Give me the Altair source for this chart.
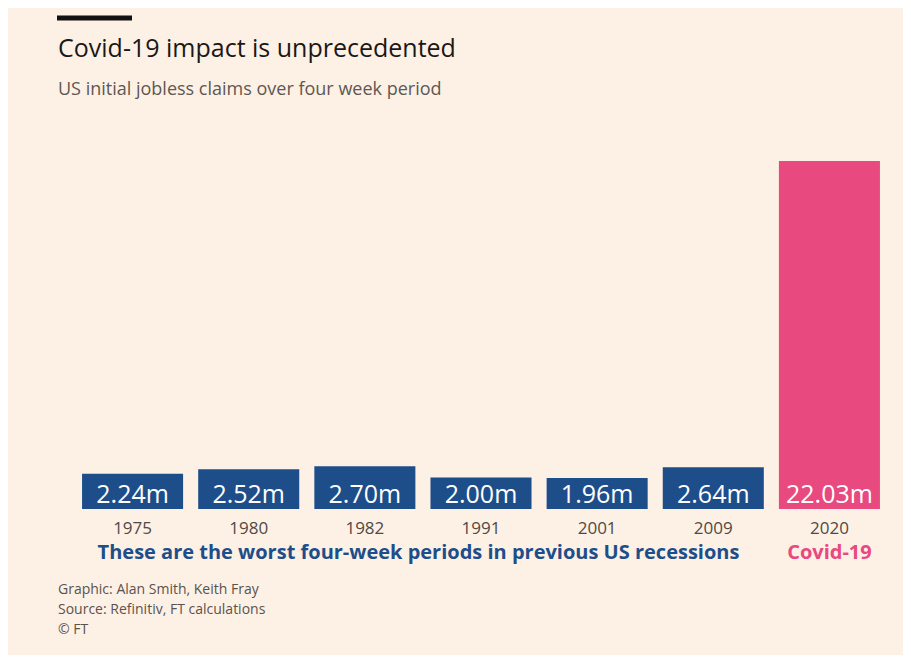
import altair as alt
import pandas as pd

years = ["1975", "1980", "1982", "1991", "2001", "2009", "2020"]
claims = [2.24, 2.52, 2.70, 2.00, 1.96, 2.64, 22.03]
labels = ["2.24m", "2.52m", "2.70m", "2.00m", "1.96m", "2.64m", "22.03m"]
groups = ["prev", "prev", "prev", "prev", "prev", "prev", "covid"]

title_text = ["Covid-19 impact is unprecedented"]
subtitle_text = ["US initial jobless claims over four week period"]
caption_prev = ["These are the worst four-week periods in previous US recessions"]
caption_covid = ["Covid-19"]
footer_lines = ["Graphic: Alan Smith, Keith Fray", "Source: Refinitiv, FT calculations", "© FT"]

BG = "#fdf0e5"
BLUE = "#1e4e8a"
PINK = "#e8497f"
FONT = "Open Sans"

df = pd.DataFrame({"year": years, "claims": claims, "label": labels, "group": groups})

x = alt.X("year:N", sort=years, title=None,
          scale=alt.Scale(paddingInner=0.13, paddingOuter=0.065),
          axis=alt.Axis(labelAngle=0, domain=False, ticks=False, labelFontSize=17,
                        labelColor="#4f4a46", labelPadding=11, labelFont=FONT))
y = alt.Y("claims:Q", scale=alt.Scale(domain=[0, 24], nice=False), axis=None)
color = alt.Color("group:N", scale=alt.Scale(domain=["prev", "covid"], range=[BLUE, PINK]), legend=None)

base = alt.Chart(df)
bars = base.mark_bar().encode(x=x, y=y, color=color)
vals = base.transform_calculate(zero="0").mark_text(
    color="white", fontSize=25, font=FONT, baseline="alphabetic", dy=-6).encode(
    x=alt.X("year:N", sort=years), y=alt.Y("zero:Q", axis=None), text="label:N")

title = alt.Chart(pd.DataFrame({"t": title_text})).mark_text(
    align="left", baseline="alphabetic", fontSize=25, font=FONT, color="#1a1817").encode(
    x=alt.value(-16.5), y=alt.value(-73), text="t:N")
subtitle = alt.Chart(pd.DataFrame({"t": subtitle_text})).mark_text(
    align="left", baseline="alphabetic", fontSize=18, font=FONT, color="#5e5852").encode(
    x=alt.value(-16.5), y=alt.value(-35), text="t:N")
topbar = alt.Chart(pd.DataFrame({"t": ["bar"]})).mark_rule(color="#111111", strokeWidth=5).encode(
    x=alt.value(-17.5), x2=alt.value(57.5), y=alt.value(-112))

cap1 = alt.Chart(pd.DataFrame({"t": caption_prev})).mark_text(
    align="center", baseline="alphabetic", fontSize=20, fontWeight="bold", font=FONT, color=BLUE).encode(
    x=alt.value(344), y=alt.value(429), text="t:N")
cap2 = alt.Chart(pd.DataFrame({"t": caption_covid, "year": ["2020"]})).mark_text(
    align="center", baseline="alphabetic", fontSize=20, fontWeight="bold", font=FONT, color=PINK).encode(
    x=alt.X("year:N", sort=years), y=alt.value(429), text="t:N")

footer = alt.Chart(pd.DataFrame({"t": ["\n".join(footer_lines)]})).mark_text(
    align="left", baseline="alphabetic", fontSize=14, font=FONT, color="#5a534d",
    lineBreak="\n", lineHeight=20).encode(
    x=alt.value(-16.5), y=alt.value(464), text="t:N")

chart = alt.layer(bars, vals, title, subtitle, topbar, cap1, cap2, footer).properties(
    width=813, height=379, background=BG,
    padding={"left": 66.5, "top": 122, "right": 15.5, "bottom": 146},
    autosize=alt.AutoSizeParams(type="none"),
).configure_view(stroke=None)

chart.save("out.html", embed_options={"renderer": "svg", "actions": False})
